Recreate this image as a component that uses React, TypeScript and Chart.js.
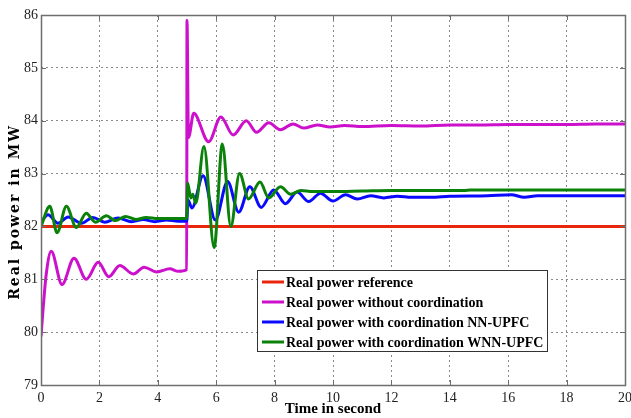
import React, { useEffect, useRef } from "react";
import { Chart, registerables } from "chart.js";

Chart.register(...registerables);

// ---- Data ----
const seriesLabels = [
  "Real power reference",
  "Real power without coordination",
  "Real power with coordination NN-UPFC",
  "Real power with coordination WNN-UPFC",
];
const seriesColors = ["#e8260c", "#cc10cc", "#0a0aff", "#0a820a"];

const refTime = [0, 20];
const refPower = [82, 82];

const withoutTime = [0, 0.08, 0.18, 0.35, 0.72, 1.13, 1.55, 1.96, 2.32, 2.7, 3.16, 3.53, 3.96, 4.41, 4.7, 4.99, 5.0, 5.05, 5.23, 5.74, 6.16, 6.58, 7.03, 7.38, 7.8, 8.2, 8.63, 9.0, 9.46, 9.9, 10.4, 11, 12, 13, 14, 15, 16, 17, 18, 19, 20];
const withoutPower = [79.92, 80.5, 81.1, 81.53, 80.9, 81.4, 81.0, 81.32, 81.05, 81.26, 81.1, 81.23, 81.14, 81.2, 81.15, 81.18, 85.9, 83.68, 84.14, 83.6, 84.07, 83.73, 84.0, 83.78, 83.96, 83.83, 83.94, 83.86, 83.92, 83.88, 83.91, 83.89, 83.91, 83.9, 83.92, 83.92, 83.93, 83.93, 83.93, 83.94, 83.94];

const nnTime = [0, 0.24, 0.58, 0.93, 1.38, 1.78, 2.18, 2.64, 3.1, 3.5, 3.9, 4.3, 4.7, 4.99, 5.03, 5.17, 5.55, 5.97, 6.39, 6.77, 7.15, 7.54, 7.97, 8.37, 8.77, 9.17, 9.57, 10.0, 10.43, 10.83, 11.29, 11.74, 12.2, 12.7, 13.35, 14, 15.3, 16.1, 16.55, 17, 18, 20];
const nnPower = [82.08, 82.22, 82.06, 82.18, 82.06, 82.17, 82.08, 82.16, 82.09, 82.13, 82.09, 82.12, 82.1, 82.1, 82.5, 82.35, 82.96, 82.12, 82.85, 82.27, 82.75, 82.36, 82.69, 82.43, 82.65, 82.47, 82.63, 82.48, 82.6, 82.52, 82.58, 82.54, 82.57, 82.55, 82.55, 82.57, 82.58, 82.6, 82.55, 82.58, 82.58, 82.58];

const wnnTime = [0, 0.3, 0.55, 0.87, 1.21, 1.55, 1.86, 2.24, 2.55, 2.9, 3.25, 3.6, 4.0, 4.5, 4.99, 5.02, 5.13, 5.2, 5.3, 5.58, 5.93, 6.21, 6.5, 6.8, 7.11, 7.5, 7.8, 8.2, 8.55, 8.9, 9.3, 10, 11, 12, 14.5, 14.7, 20];
const wnnPower = [82.0, 82.38, 81.88, 82.38, 81.98, 82.25, 82.08, 82.2, 82.11, 82.19, 82.13, 82.17, 82.15, 82.15, 82.15, 82.82, 82.54, 82.61, 82.44, 83.51, 81.6, 83.56, 82.0, 83.0, 82.52, 82.84, 82.54, 82.75, 82.61, 82.68, 82.66, 82.66, 82.67, 82.68, 82.68, 82.69, 82.69];

const xTicks = [0, 2, 4, 6, 8, 10, 12, 14, 16, 18, 20];
const yTicks = [79, 80, 81, 82, 83, 84, 85, 86];
const xTitle = "Time in second";
const yTitle = "Real power in MW";

const toPoints = (t: number[], v: number[]) => t.map((x, i) => ({ x, y: v[i] }));

const framePlugin = {
  id: "frame",
  afterDraw(chart: any) {
    const { ctx, chartArea } = chart;
    const { left, right, top, bottom } = chartArea;
    const xs = chart.scales.x;
    const ys = chart.scales.y;
    ctx.save();
    ctx.strokeStyle = "#6e6e6e";
    ctx.lineWidth = 1;
    ctx.setLineDash([]);
    ctx.beginPath();
    xTicks.forEach((t) => {
      const px = Math.round(xs.getPixelForValue(t)) + 0.5;
      ctx.moveTo(px, bottom);
      ctx.lineTo(px, bottom - 5);
      ctx.moveTo(px, top);
      ctx.lineTo(px, top + 5);
    });
    yTicks.forEach((v) => {
      const py = Math.round(ys.getPixelForValue(v)) + 0.5;
      ctx.moveTo(left, py);
      ctx.lineTo(left + 5, py);
      ctx.moveTo(right, py);
      ctx.lineTo(right - 5, py);
    });
    ctx.stroke();
    ctx.lineWidth = 1.5;
    ctx.strokeRect(Math.round(left) + 0.5, Math.round(top) + 0.5, Math.round(right - left), Math.round(bottom - top));

    // y title
    ctx.save();
    ctx.translate(15, 212);
    ctx.rotate(-Math.PI / 2);
    ctx.font = "bold 14px 'DejaVu Serif'";
    try {
      (ctx as any).letterSpacing = "2px";
    } catch (e) {}
    ctx.fillStyle = "#000";
    ctx.textAlign = "center";
    ctx.textBaseline = "middle";
    ctx.fillText(yTitle, 0, 0);
    ctx.restore();

    // legend
    const bx = 257, by = 270, bw = 290, bh = 81;
    ctx.fillStyle = "#fff";
    ctx.fillRect(bx, by, bw, bh);
    ctx.strokeStyle = "#333";
    ctx.lineWidth = 1;
    ctx.strokeRect(bx + 0.5, by + 0.5, bw, bh);
    ctx.font = "bold 14px 'Liberation Serif'";
    ctx.textBaseline = "middle";
    ctx.textAlign = "left";
    seriesLabels.forEach((lab, i) => {
      const yy = by + 12 + i * 20;
      ctx.strokeStyle = seriesColors[i];
      ctx.lineWidth = 3;
      ctx.beginPath();
      ctx.moveTo(bx + 5, yy);
      ctx.lineTo(bx + 27, yy);
      ctx.stroke();
      ctx.fillStyle = "#000";
      ctx.fillText(lab, bx + 29, yy + 1);
    });
    ctx.restore();
  },
};

export default function App() {
  const ref = useRef<HTMLCanvasElement | null>(null);
  useEffect(() => {
    if (!ref.current) return;
    const series = [
      toPoints(refTime, refPower),
      toPoints(withoutTime, withoutPower),
      toPoints(nnTime, nnPower),
      toPoints(wnnTime, wnnPower),
    ];
    const chart = new Chart(ref.current, {
      type: "line",
      data: {
        datasets: series.map((d, i) => ({
          label: seriesLabels[i],
          data: d,
          borderColor: seriesColors[i],
          backgroundColor: seriesColors[i],
          borderWidth: 3,
          pointRadius: 0,
          fill: false,
          cubicInterpolationMode: "monotone" as const,
          order: 3 - i,
        })),
      },
      options: {
        animation: false,
        responsive: false,
        devicePixelRatio: 1,
        layout: { padding: { top: 15, right: 6, left: 0, bottom: 0 } },
        plugins: { legend: { display: false }, tooltip: { enabled: false } },
        scales: {
          x: {
            type: "linear",
            min: 0,
            max: 20,
            afterFit: (s: any) => {
              s.height = 33;
              s.paddingLeft = 0;
              s.paddingRight = 0;
            },
            afterBuildTicks: (s: any) => {
              s.ticks = xTicks.map((v) => ({ value: v }));
            },
            ticks: {
              padding: 5,
              color: "#222",
              font: { family: "'Liberation Serif'", size: 14 },
              maxRotation: 0,
              callback: (v: any) => String(v),
            },
            grid: { color: "#8a8a8a", drawTicks: false, lineWidth: 1 },
            border: { display: false, dash: [2, 3] },
            title: {
              display: true,
              text: xTitle,
              color: "#000",
              font: { family: "'Liberation Serif'", size: 15, weight: "bold" },
              padding: { top: 0, bottom: 0 },
            },
          },
          y: {
            type: "linear",
            min: 79,
            max: 86,
            afterFit: (s: any) => {
              s.width = 41;
              s.paddingTop = 0;
              s.paddingBottom = 0;
            },
            afterBuildTicks: (s: any) => {
              s.ticks = yTicks.map((v) => ({ value: v }));
            },
            ticks: {
              padding: 3,
              color: "#222",
              font: { family: "'Liberation Serif'", size: 14 },
              callback: (v: any) => String(v),
            },
            grid: { color: "#8a8a8a", drawTicks: false, lineWidth: 1 },
            border: { display: false, dash: [2, 3] },
          },
        },
      },
      plugins: [framePlugin],
    });
    return () => chart.destroy();
  }, []);
  return (
    <div style={{ position: "absolute", left: 0, top: 0, width: 631, height: 418, background: "#fff" }}>
      <canvas ref={ref} width={631} height={418} />
    </div>
  );
}
